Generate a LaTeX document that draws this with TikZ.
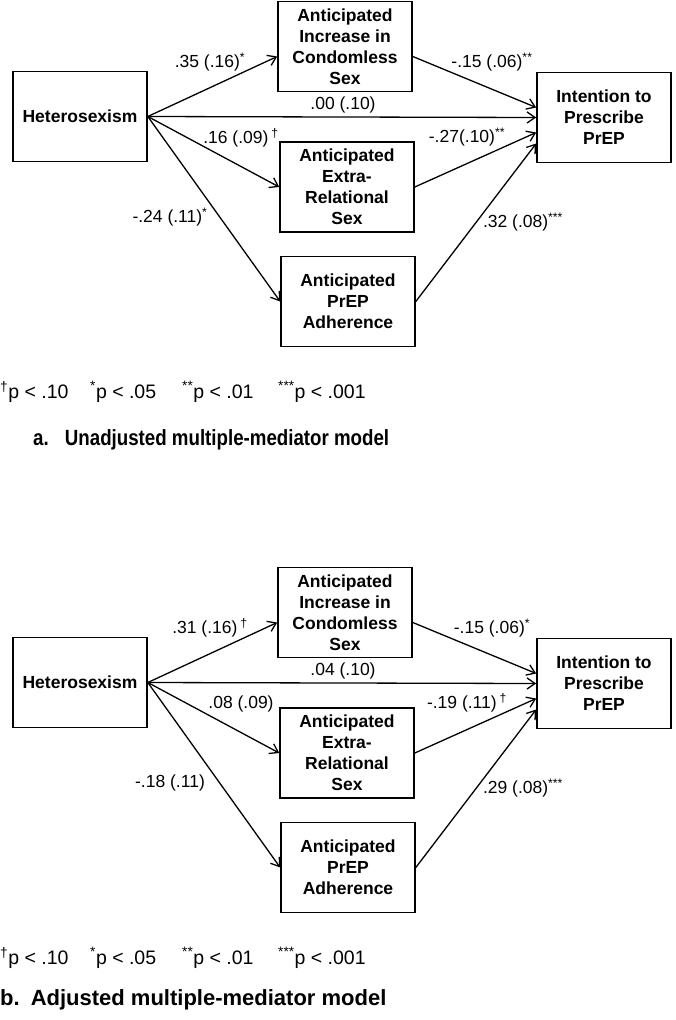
\documentclass[tikz,border=0pt]{standalone}
\usepackage{fontspec}
\setmainfont{Liberation Sans}
\usetikzlibrary{arrows.meta}
\newcommand{\sig}[1]{\textsuperscript{#1}}

\begin{document}
\begin{tikzpicture}[x=1pt,y=-1pt,
 var/.style={draw,line width=1.6pt,minimum width=134pt,minimum height=90pt,
  inner sep=2pt,align=center,font=\bfseries\fontsize{17.5}{21}\selectfont},
 effect/.style={-{Straight Barb[length=8pt,width=11pt]},line width=1.3pt},
 coef/.style={inner sep=0pt,font=\fontsize{17.5}{20}\selectfont},
 legend/.style={anchor=west,inner sep=0pt,font=\fontsize{19.5}{21}\selectfont},
 title/.style={anchor=west,inner sep=0pt,font=\bfseries\fontsize{22}{24}\selectfont}]
\useasboundingbox (0,0) rectangle (675,1020);
% one panel per model, panel b sits 566 lower
\foreach \dy/\m/\ca/\cb/\cc/\cd/\ce/\cf/\cg in {%
 0/a/{.35 (.16)\sig{*}}/{.00 (.10)}/{.16 (.09)\,\sig{\dag}}/{-.24 (.11)\sig{*}}/{-.15 (.06)\sig{**}}/{-.27(.10)\sig{**}}/{.32 (.08)\sig{***}},
 566/b/{.31 (.16)\,\sig{\dag}}/{.04 (.10)}/{.08 (.09)}/{-.18 (.11)}/{-.15 (.06)\sig{*}}/{-.19 (.11)\,\sig{\dag}}/{.29 (.08)\sig{***}}}
{
 \begin{scope}[shift={(0,\dy)}]
  \node[var] (het\m) at (80,116.5) {Heterosexism};
  \node[var] (inc\m) at (345,46.5) {Anticipated\\Increase in\\Condomless\\Sex};
  \node[var] (ext\m) at (347,187) {Anticipated\\Extra-\\Relational\\Sex};
  \node[var] (adh\m) at (348,301.5) {Anticipated\\PrEP\\Adherence};
  \node[var] (int\m) at (604,117.5) {Intention to\\Prescribe\\PrEP};
  \draw[effect] (het\m.east) -- ([yshift=-10pt]inc\m.west);
  \draw[effect] (het\m.east) -- (int\m.west);
  \draw[effect] (het\m.east) -- (ext\m.west);
  \draw[effect] (het\m.east) -- (adh\m.west);
  \draw[effect] ([yshift=-10pt]inc\m.east) -- ([yshift=10pt]int\m.west);
  \draw[effect] (ext\m.east) -- ([yshift=-15pt]int\m.west);
  \draw[effect] (adh\m.east) -- ([yshift=-26pt]int\m.west);
  \node[coef] (ca\m) at (210,62) {\ca};
  \node[coef] (cb\m) at (343,105) {\cb};
  \node[coef] (cc\m) at (241,138) {\cc};
  \node[coef] (cd\m) at (170,217) {\cd};
  \node[coef] (ce\m) at (492,62) {\ce};
  \node[coef] (cf\m) at (467,137) {\cf};
  \node[coef] (cg\m) at (523,222) {\cg};
  \foreach \x/\t in {0/\sig{\dag}p < .10,90/\sig{*}p < .05,182/\sig{**}p < .01,278/\sig{***}p < .001}
   \node[legend] at (\x,392) {\t};
 \end{scope}
}
\node[title] (tita) at (33,440) {\scalebox{0.85}[1]{a.\hspace{19pt}Unadjusted multiple-mediator model}};
\node[title] (titb) at (0,1000) {b.\hspace{0.5em}Adjusted multiple-mediator model};
\end{tikzpicture}
\end{document}
